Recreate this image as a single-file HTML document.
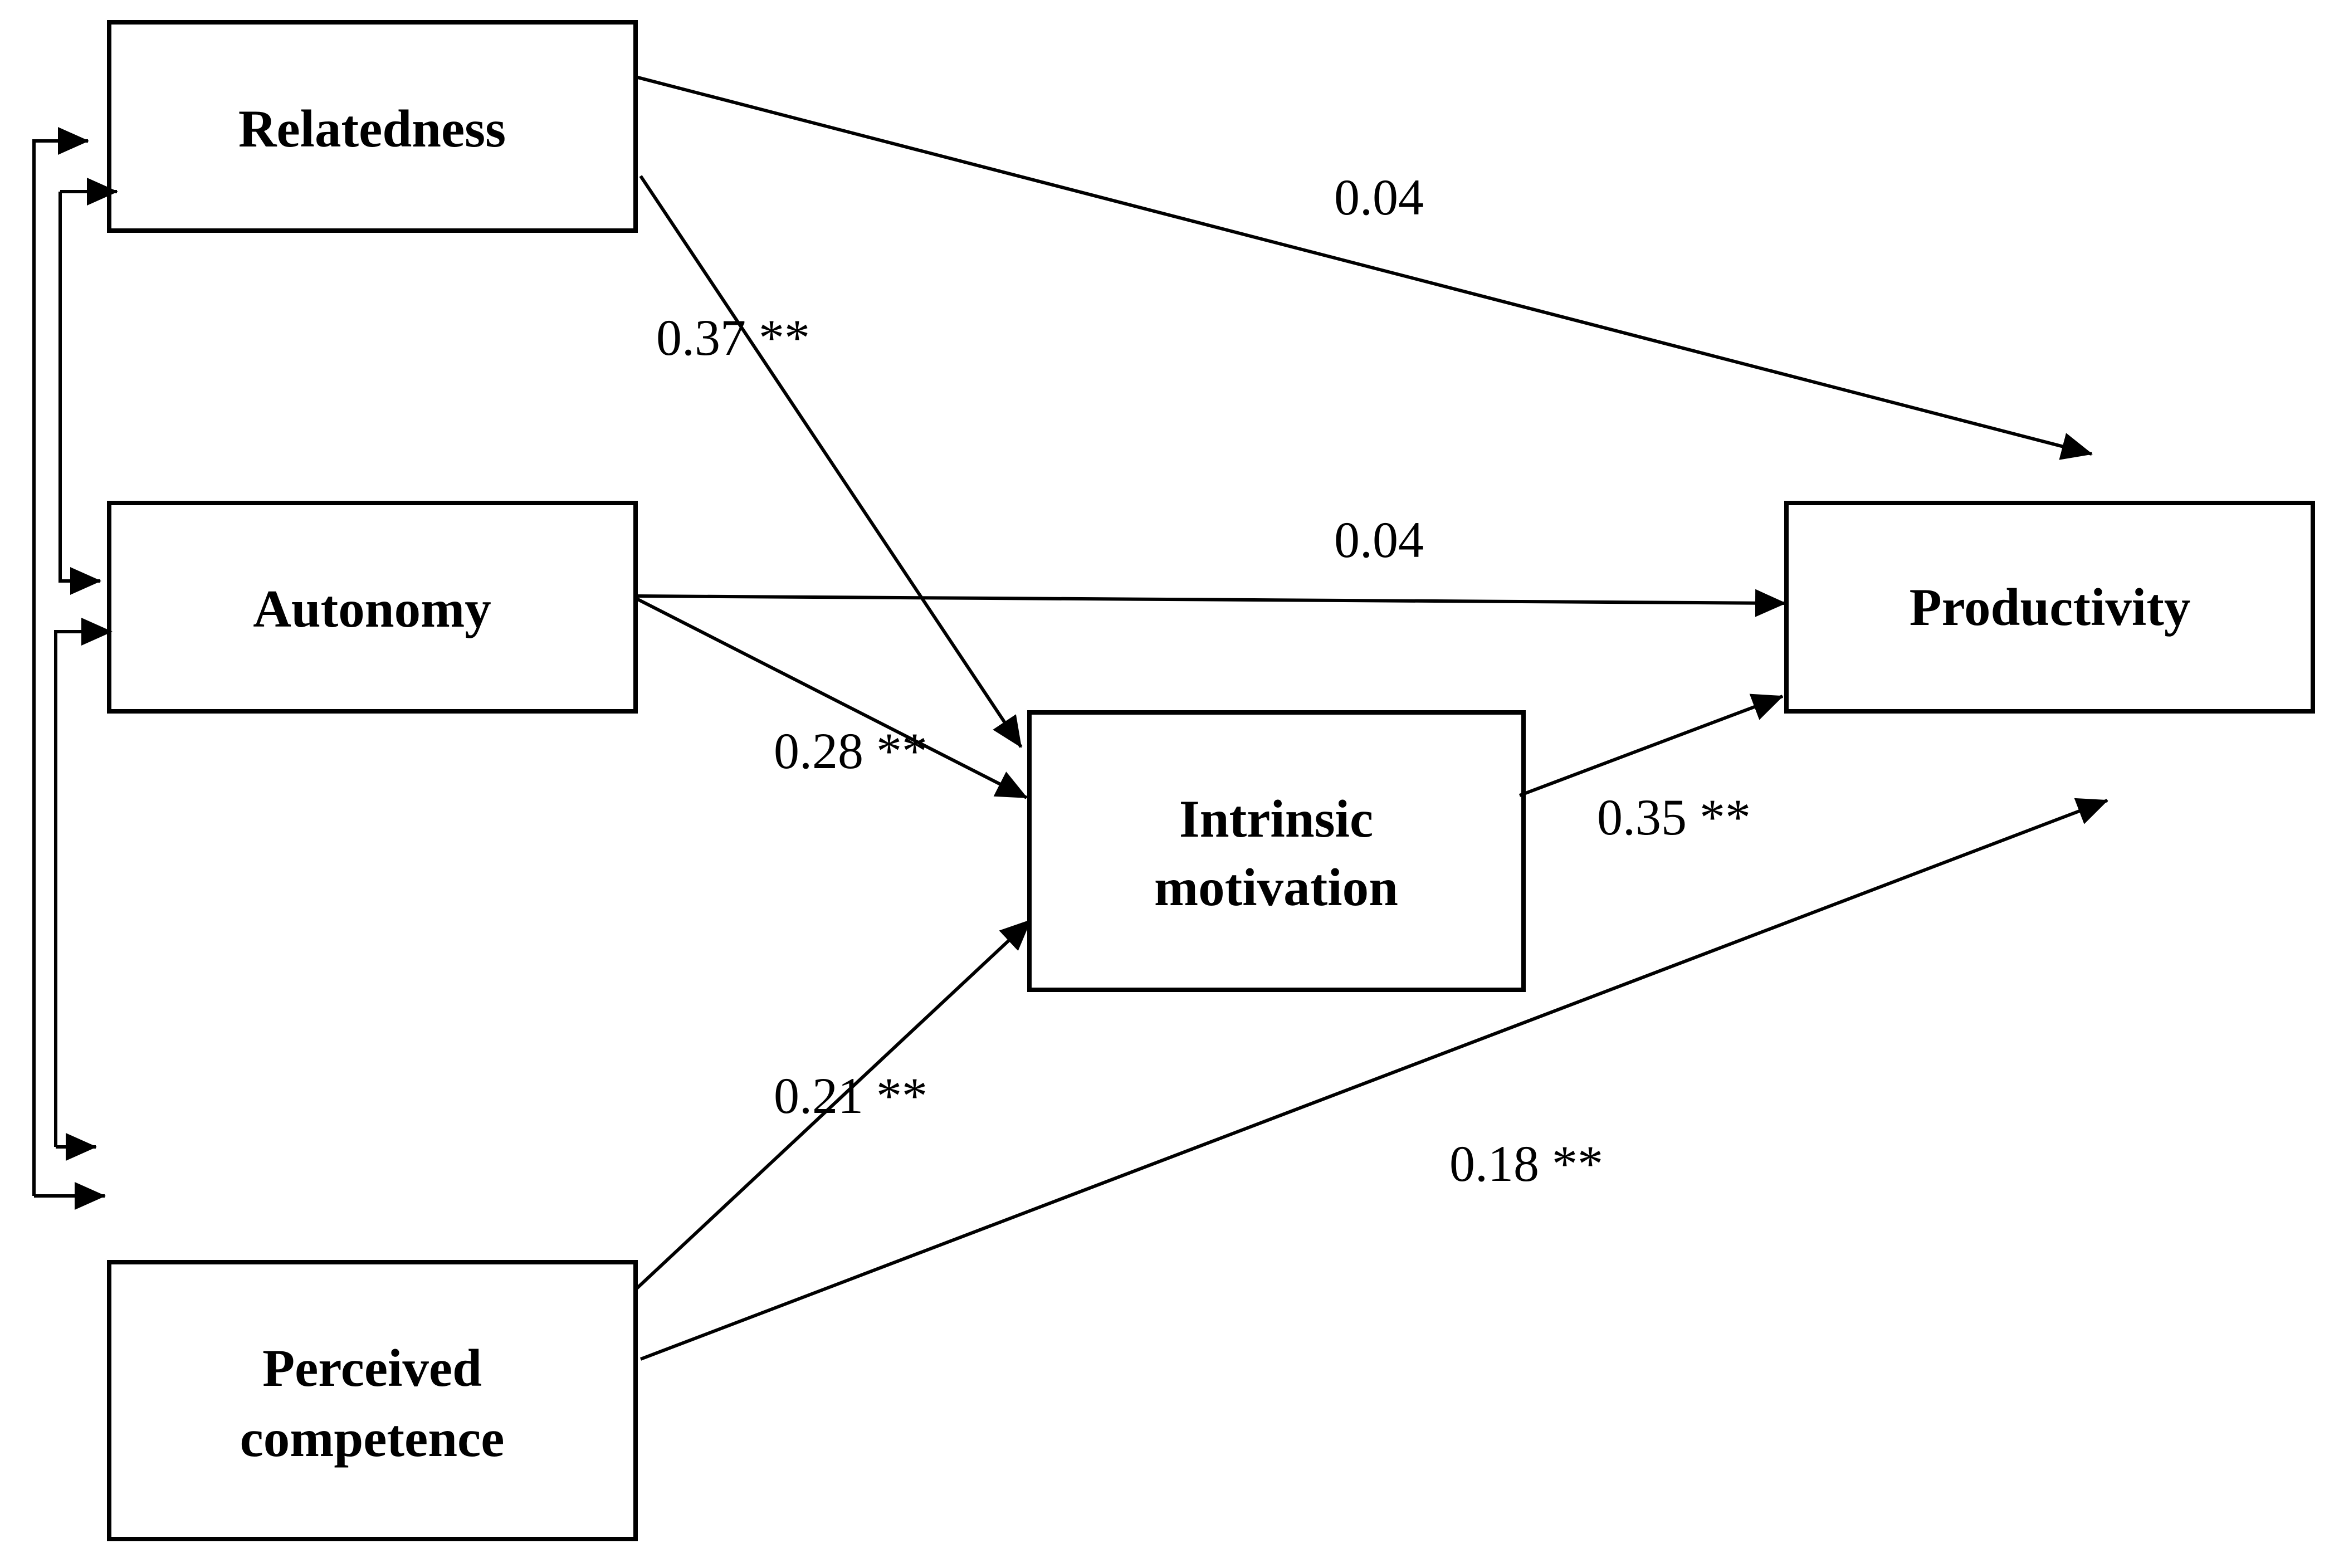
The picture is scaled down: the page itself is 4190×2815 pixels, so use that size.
<!DOCTYPE html>
<html><head><meta charset="utf-8"><style>html,body{margin:0;padding:0;background:#fff}svg{display:block}</style></head>
<body>
<svg width="4190" height="2815" viewBox="0 0 4190 2815" xmlns="http://www.w3.org/2000/svg">
<defs>
<marker id="a" markerUnits="userSpaceOnUse" markerWidth="56" markerHeight="50" refX="54" refY="25" orient="auto">
<path d="M0,0 L56,25 L0,50 Z" fill="#000"/>
</marker>
</defs>
<g fill="none" stroke="#000" stroke-width="8">
<rect x="196" y="40" width="945" height="374"/>
<rect x="196" y="903" width="945" height="374"/>
<rect x="196" y="2266" width="945" height="497"/>
<rect x="1848" y="1279" width="887" height="498"/>
<rect x="3207" y="903" width="945" height="374"/>
</g>
<g fill="none" stroke="#000" stroke-width="6">
<line x1="1141" y1="138" x2="3755" y2="815" marker-end="url(#a)"/>
<line x1="1150" y1="316" x2="1833" y2="1341" marker-end="url(#a)"/>
<line x1="1141" y1="1070" x2="3205" y2="1083" marker-end="url(#a)"/>
<line x1="1141" y1="1074" x2="1843" y2="1432" marker-end="url(#a)"/>
<line x1="1141" y1="2315" x2="1850" y2="1652" marker-end="url(#a)"/>
<line x1="1150" y1="2440" x2="3783" y2="1437" marker-end="url(#a)"/>
<line x1="2728" y1="1428" x2="3200" y2="1250" marker-end="url(#a)"/>
<polyline points="108,344 108,1043 180,1043" marker-end="url(#a)"/>
<polyline points="108,344 210,344" marker-end="url(#a)"/>
<polyline points="61,2147 61,253 158,253" marker-end="url(#a)"/>
<polyline points="61,2147 188,2147" marker-end="url(#a)"/>
<polyline points="100,2059 100,1134 200,1134" marker-end="url(#a)"/>
<polyline points="100,2059 172,2059" marker-end="url(#a)"/>
</g>
<g font-family="'Liberation Serif', serif" font-weight="bold" font-size="95" text-anchor="middle" fill="#000">
<text x="668" y="263">Relatedness</text>
<text x="668" y="1125">Autonomy</text>
<text x="668" y="2488">Perceived</text>
<text x="668" y="2614">competence</text>
<text x="2291" y="1502">Intrinsic</text>
<text x="2291" y="1625">motivation</text>
<text x="3680" y="1122">Productivity</text>
</g>
<g font-family="'Liberation Serif', serif" font-size="92" fill="#000">
<text x="2395" y="385">0.04</text>
<text x="1178" y="637">0.37 **</text>
<text x="2395" y="1000">0.04</text>
<text x="1389" y="1379">0.28 **</text>
<text x="1389" y="1998">0.21 **</text>
<text x="2867" y="1498">0.35 **</text>
<text x="2602" y="2120">0.18 **</text>
</g>
</svg>
</body></html>
